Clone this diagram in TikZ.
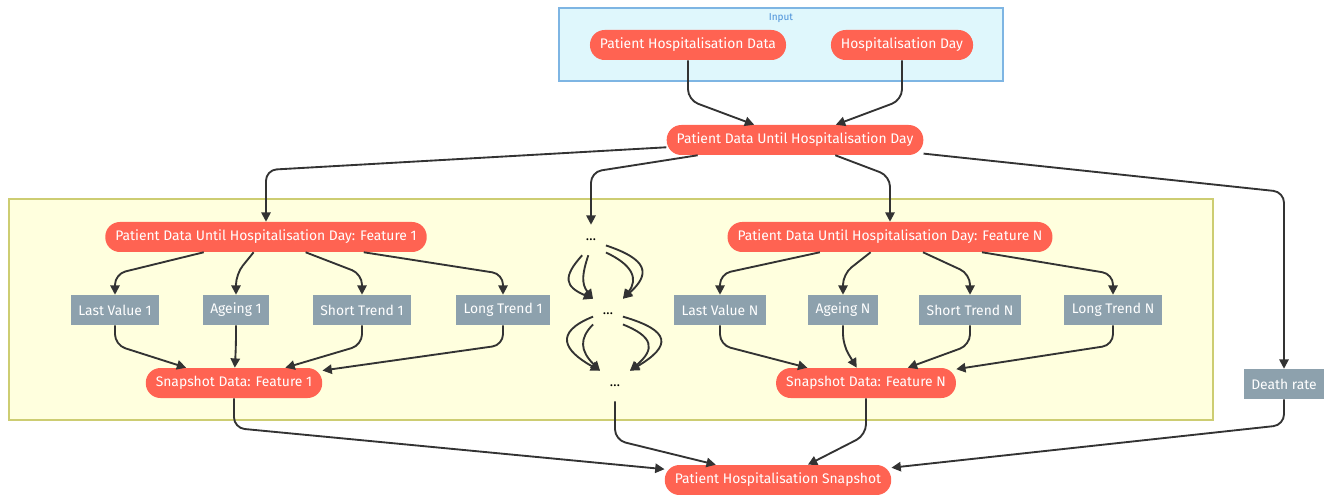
\documentclass[tikz,border=0pt]{standalone}
\usepackage{fontspec}
\setmainfont{Fira Sans}
\usetikzlibrary{arrows.meta}

\definecolor{nodered}{HTML}{FF6352}
\definecolor{nodegray}{HTML}{8DA1AD}
\definecolor{edgegray}{HTML}{333333}
\definecolor{inputfill}{HTML}{DFF7FC}
\definecolor{inputline}{HTML}{7EB5E3}
\definecolor{inputtext}{HTML}{4A90D9}
\definecolor{groupfill}{HTML}{FFFFDE}
\definecolor{groupline}{HTML}{CDCD72}

\begin{document}
\begin{tikzpicture}[x=0.75pt, y=0.75pt,
                        every node/.style={font=\fontsize{10.4}{12}\selectfont},
                        flow/.style={draw=edgegray, line width=1.4pt, rounded corners=8pt, -{Triangle[length=7pt, width=7pt]}}
                    ]

    % Define custom styles for the node kinds
    \tikzset{
        datanode/.style={rectangle, rounded corners=11pt, fill=nodered, text=white, minimum height=22.5pt, inner xsep=7.5pt}
    }
    \tikzset{
        valuebox/.style={rectangle, fill=nodegray, text=white, minimum height=22.5pt, inner xsep=5.5pt}
    }
    \tikzset{
        dotsbox/.style={rectangle, minimum width=22pt, minimum height=22.5pt, text=black}
    }

    \useasboundingbox (0,0) rectangle (1334,-495);

    % Group backgrounds
    \path[fill=inputfill, draw=inputline, line width=0.8pt] (559,-8) rectangle (1003,-81);
    \node[text=inputtext, font=\fontsize{7.5}{9}\selectfont] (inputlabel) at (781,-18) {Input};
    \path[fill=groupfill, draw=groupline, line width=0.8pt] (9,-199) rectangle (1213,-420);

    % Input row
    \node[datanode] (phd) at (688,-45) {Patient Hospitalisation Data};
    \node[datanode] (hd) at (902,-45) {Hospitalisation Day};

    % Merged data
    \node[datanode] (pd) at (795,-140) {Patient Data Until Hospitalisation Day};

    % Feature row
    \node[datanode] (pd1) at (266,-237) {Patient Data Until Hospitalisation Day: Feature 1};
    \node[dotsbox] (dotsA) at (591,-240) {\dots};
    \node[datanode] (pdN) at (890,-237) {Patient Data Until Hospitalisation Day: Feature N};

    % Values of every feature
    \node[valuebox] (lv1) at (115,-310) {Last Value 1};
    \node[valuebox] (ag1) at (236,-310) {Ageing 1};
    \node[valuebox] (st1) at (362,-310) {Short Trend 1};
    \node[valuebox] (lt1) at (503,-310) {Long Trend 1};
    \node[dotsbox] (dotsB) at (608,-314) {\dots};
    \node[valuebox] (lvN) at (720,-310) {Last Value N};
    \node[valuebox] (agN) at (843,-310) {Ageing N};
    \node[valuebox] (stN) at (970,-310) {Short Trend N};
    \node[valuebox] (ltN) at (1113,-310) {Long Trend N};

    % Snapshot row
    \node[datanode] (sd1) at (234,-383) {Snapshot Data: Feature 1};
    \node[dotsbox] (dotsC) at (615,-386) {\dots};
    \node[datanode] (sdN) at (866,-383) {Snapshot Data: Feature N};
    \node[valuebox] (dr) at (1284,-384) {Death rate};

    % Result
    \node[datanode] (phs) at (778,-480) {Patient Hospitalisation Snapshot};

    % Edges into the merged data
    \draw[flow] (phd) -- (688,-100) -- (pd);
    \draw[flow] (hd) -- (902,-100) -- (pd);

    % Edges out of the merged data
    \draw[flow] (pd) -- (266,-170) -- (pd1);
    \draw[flow] (pd) -- (591,-172) -- (dotsA);
    \draw[flow] (pd) -- (890,-176) -- (pdN);
    \draw[flow] (pd) -- (1284,-192) -- (dr);

    % Edges through every feature
    \foreach \f in {1,N} {
        \foreach \c in {lv,ag,st,lt} {
            \draw[flow] (pd\f) -- (\c\f |- 0,-274) -- (\c\f);
            \draw[flow] (\c\f) -- (\c\f |- 0,-345) -- (sd\f);
        }
    }

    % Edges between the gaps
    \draw[flow] (dotsA.-120) .. controls +(-20,-22) and +(-28,12) .. (dotsB.north west);
    \draw[flow] (dotsA.-100) .. controls +(-6,-18) and +(-12,15) .. (dotsB.north west);
    \draw[flow] (dotsA.-20) .. controls +(42,-14) and +(28,25) .. (dotsB.north east);
    \draw[flow] (dotsA.-40) .. controls +(26,-12) and +(16,20) .. (dotsB.north east);
    \draw[flow] (dotsB.190) .. controls +(-40,-16) and +(-36,20) .. (dotsC.north west);
    \draw[flow] (dotsB.215) .. controls +(-14,-14) and +(-20,20) .. (dotsC.north west);
    \draw[flow] (dotsB.-10) .. controls +(48,-14) and +(42,25) .. (dotsC.north east);
    \draw[flow] (dotsB.-35) .. controls +(30,-12) and +(26,22) .. (dotsC.north east);

    % Edges into the snapshot
    \draw[flow] (sd1) -- (234,-428) -- (phs);
    \draw[flow] (dotsC) -- (615,-440) -- (phs);
    \draw[flow] (sdN) -- (866,-435) -- (phs);
    \draw[flow] (dr) -- (1284,-425) -- (phs);

\end{tikzpicture}
\end{document}
